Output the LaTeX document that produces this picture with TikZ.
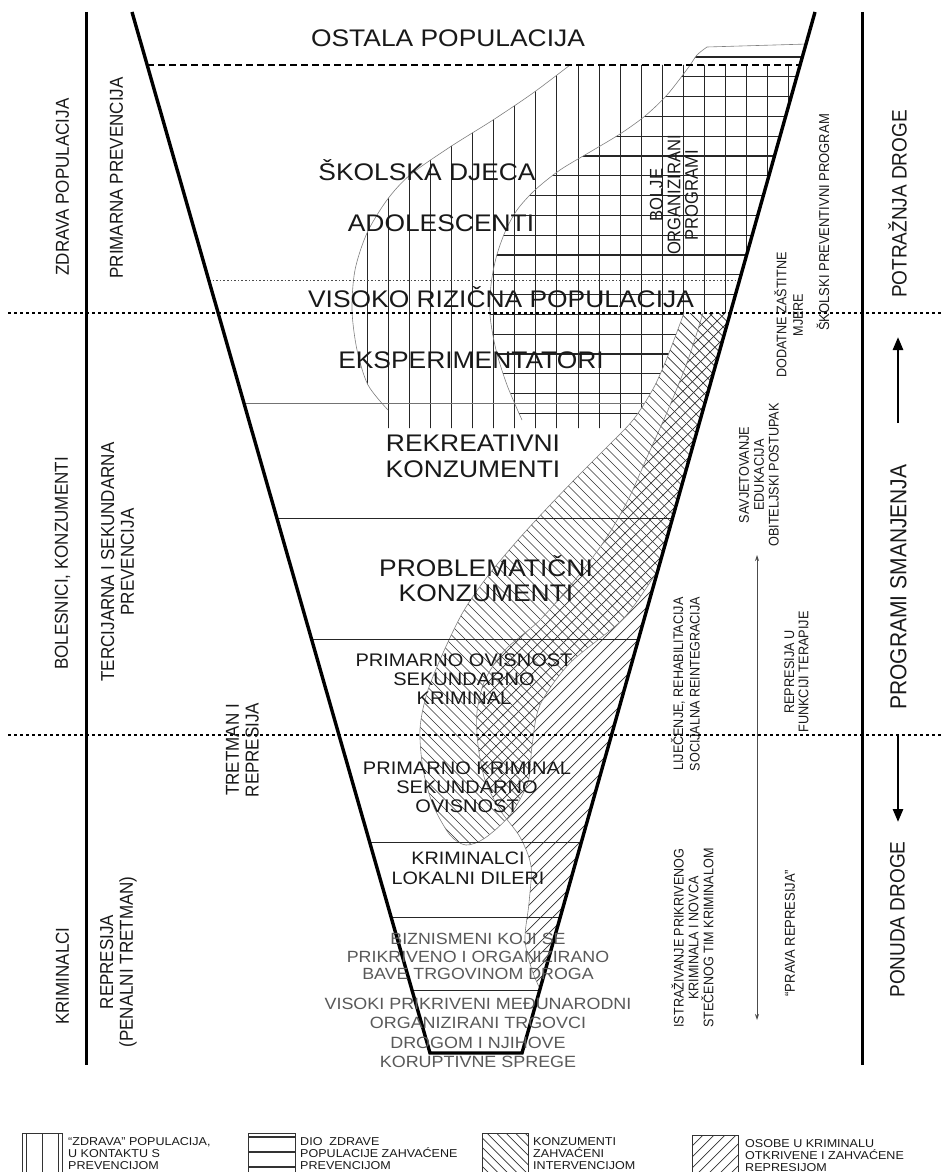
\documentclass[tikz,border=0pt]{standalone}
\usepackage{fontspec}
\setmainfont{Liberation Sans}
\usetikzlibrary{arrows.meta}
\newcommand\setfs[2]{\fontsize{#1}{#2}\selectfont}
\begin{document}
\begin{tikzpicture}[x=1pt,y=-1pt,
  funnelline/.style={line width=3.4pt, line join=miter},
  axisline/.style={line width=3pt},
  bigdots/.style={line width=2.6pt, dash pattern=on 2.6pt off 3.4pt},
  topdash/.style={line width=2.4pt, dash pattern=on 7pt off 4pt},
  thindots/.style={line width=0.8pt, dash pattern=on 1.6pt off 2pt, black!70},
  rowline/.style={line width=0.9pt, black!85},
  edge/.style={line width=0.6pt, black!50},
  vhatch/.style={line width=1pt, black!85},
  hhatch/.style={line width=1.1pt, black!85},
  dhatch/.style={line width=0.7pt, black!80},
  txt/.style={inner sep=0pt, xscale=1.1, text=black!90},
  bigtxt/.style={txt, font=\setfs{24}{25.5}, align=center},
  midtxt/.style={txt, font=\setfs{18.2}{19}, align=center},
  lowtxt/.style={txt, font=\setfs{16.2}{17.5}, align=center, text=black!65},
  sidetxt/.style={txt, rotate=90, font=\setfs{17}{18}, align=center},
  smalltxt/.style={txt, rotate=90, font=\setfs{12.7}{13.5}, align=center},
  legtxt/.style={txt, anchor=north west, font=\setfs{11.4}{12.3}, align=left},
  legbox/.style={line width=0.8pt, black!80},
  bigarrow/.style={line width=2.6pt, -{Triangle[length=13pt,width=10pt]}},
  thinarrow/.style={line width=0.8pt, black!70, {Stealth[length=6pt,width=4pt]}-{Stealth[length=6pt,width=4pt]}}
]
\useasboundingbox (0,0) rectangle (941,1172);
\fill[white] (0,0) rectangle (941,1172);

% ---- vertical hatch (zdrava populacija u kontaktu s prevencijom)
\begin{scope}
  \clip (132,12) -- (815,12) -- (522,1053) -- (430,1053) -- cycle;
  \clip plot[smooth] coordinates {(570,65) (533,93) (493,120) (450,147) (410,175) (387,200) (367,233) (355,270) (352,310) (357,350) (368,385) (388,410)} -- (388,428) -- (760,428) -- (860,65) -- cycle;
  \foreach \k in {0,...,21} \draw[vhatch] ({367.5+21.05*\k},55) -- ({367.5+21.05*\k},435);
\end{scope}
% ---- horizontal hatch (dio zdrave populacije zahvacene prevencijom)
\begin{scope}
  \clip (132,12) -- (815,12) -- (522,1053) -- (430,1053) -- cycle;
  \clip plot[smooth] coordinates {(522,420) (507,385) (496,350) (490,315) (491,285) (496,258) (505,232) (517,210) (535,190) (560,170) (590,152) (620,134) (645,116) (667,95) (688,68) (697,55) (707,47)} -- (806,44) -- (870,44) -- (870,420) -- cycle;
  \foreach \k in {0,...,18} \draw[hhatch] (470,{57+19.8*\k}) -- (830,{57+19.8*\k});
\end{scope}
\begin{scope}
  \clip (132,12) -- (815,12) -- (522,1053) -- (430,1053) -- cycle;
  \draw[edge] plot[smooth] coordinates {(570,65) (533,93) (493,120) (450,147) (410,175) (387,200) (367,233) (355,270) (352,310) (357,350) (368,385) (388,410)};
  \draw[edge] plot[smooth] coordinates {(522,420) (507,385) (496,350) (490,315) (491,285) (496,258) (505,232) (517,210) (535,190) (560,170) (590,152) (620,134) (645,116) (667,95) (688,68) (697,55) (707,47)} -- (808,44);
  \draw[line width=0.7pt, black!55] (244,403) -- (710,403);
  % white ground of the two diagonal bands
  \fill[white] plot[smooth] coordinates {(684,313) (667,358) (653,389) (633,420) (607,447) (580,474) (550,505) (517,541) (487,577) (463,612) (443,653) (427,693) (420,729) (423,769) (433,805) (450,835) (466,845) (485,838) (510,815) (528,782) (532,746) (540,705) (570,663) (623,619) (657,572) (682,535) (720,480)} -- (820,420) -- (820,313) -- cycle;
  \fill[white] plot[smooth] coordinates {(703,313) (688,360) (668,410) (648,455) (628,500) (605,540) (575,580) (540,620) (505,650) (485,680) (477,712) (478,745) (485,780) (500,810) (520,837) (531,866) (529,903) (525,940) (533,973) (547,1003)} -- (700,1003) -- (820,313) -- cycle;
\end{scope}
% ---- backslash hatch (konzumenti zahvaceni intervencijom)
\begin{scope}
  \clip (132,12) -- (815,12) -- (522,1053) -- (430,1053) -- cycle;
  \clip plot[smooth] coordinates {(684,313) (667,358) (653,389) (633,420) (607,447) (580,474) (550,505) (517,541) (487,577) (463,612) (443,653) (427,693) (420,729) (423,769) (433,805) (450,835) (466,845) (485,838) (510,815) (528,782) (532,746) (540,705) (570,663) (623,619) (657,572) (682,535) (720,480)} -- (820,420) -- (820,313) -- cycle;
  \foreach \k in {0,...,92} \draw[dhatch] ({-140+9.5*\k},300) -- ({660+9.5*\k},1100);
\end{scope}
% ---- slash hatch (osobe u kriminalu otkrivene i zahvacene represijom)
\begin{scope}
  \clip (132,12) -- (815,12) -- (522,1053) -- (430,1053) -- cycle;
  \clip plot[smooth] coordinates {(703,313) (688,360) (668,410) (648,455) (628,500) (605,540) (575,580) (540,620) (505,650) (485,680) (477,712) (478,745) (485,780) (500,810) (520,837) (531,866) (529,903) (525,940) (533,973) (547,1003)} -- (700,1003) -- (820,313) -- cycle;
  \foreach \k in {0,...,50} \draw[dhatch] ({690+12*\k},300) -- ({-110+12*\k},1100);
\end{scope}
\begin{scope}
  \clip (132,12) -- (815,12) -- (522,1053) -- (430,1053) -- cycle;
  \draw[edge] plot[smooth] coordinates {(684,313) (667,358) (653,389) (633,420) (607,447) (580,474) (550,505) (517,541) (487,577) (463,612) (443,653) (427,693) (420,729) (423,769) (433,805) (450,835) (466,845) (485,838) (510,815) (528,782) (532,746) (540,705) (570,663) (623,619) (657,572) (682,535) (720,480)};
  \draw[edge] plot[smooth] coordinates {(703,313) (688,360) (668,410) (648,455) (628,500) (605,540) (575,580) (540,620) (505,650) (485,680) (477,712) (478,745) (485,780) (500,810) (520,837) (531,866) (529,903) (525,940) (533,973) (547,1003)};
\end{scope}

% ---- level lines
\draw[topdash] (147,65) -- (800,65);
\draw[thindots] (209,280) -- (740,280);
\draw[rowline] (277,518) -- (672.5,518);
\draw[rowline] (311.5,639) -- (638.6,639);
\draw[rowline] (369.6,842) -- (581.5,842);
\draw[rowline] (391,917) -- (560.3,917);
\draw[rowline] (412,990) -- (539.8,990);
\draw[bigdots] (8,313) -- (941,313);
\draw[bigdots] (8,735) -- (941,735);

% ---- funnel and side axes
\draw[funnelline] (132,12) -- (430,1053) -- (522,1053) -- (815,12);
\draw[axisline] (86,12) -- (86,1065);
\draw[axisline] (862,12) -- (862,1065);

% ---- funnel texts
\node[bigtxt, anchor=base] (ostala) at (448,47) {OSTALA POPULACIJA};
\node[bigtxt, anchor=base] (skolska) at (427,180) {ŠKOLSKA DJECA};
\node[bigtxt, anchor=base] (adol) at (441,231) {ADOLESCENTI};
\node[bigtxt, anchor=base] (visoko) at (501,307) {VISOKO RIZIČNA POPULACIJA};
\node[bigtxt, anchor=base] (eksp) at (471,368) {EKSPERIMENTATORI};
\node[bigtxt, font=\setfs{24}{26}] (rekr) at (473,456.5) {REKREATIVNI\\KONZUMENTI};
\node[bigtxt, font=\setfs{24}{25}] (probl) at (486,578.7) {PROBLEMATIČNI\\KONZUMENTI};
\node[midtxt] (povis) at (464,679.5) {PRIMARNO OVISNOST\\SEKUNDARNO\\KRIMINAL};
\node[midtxt] (pkrim) at (467,787.5) {PRIMARNO KRIMINAL\\SEKUNDARNO\\OVISNOST};
\node[midtxt, font=\setfs{18}{20}] (dileri) at (468,868.5) {KRIMINALCI\\LOKALNI DILERI};
\node[lowtxt] (biznis) at (478,956.7) {BIZNISMENI KOJI SE\\PRIKRIVENO I ORGANIZIRANO\\BAVE TRGOVINOM DROGA};
\node[lowtxt, font=\setfs{16.3}{19.3}] (visoki) at (478,1033) {VISOKI PRIKRIVENI MEĐUNARODNI\\ORGANIZIRANI TRGOVCI\\DROGOM I NJIHOVE\\KORUPTIVNE SPREGE};
\node[txt, rotate=90, font=\setfs{16.6}{16}, align=center] (bolje) at (674,195) {BOLJE\\ORGANIZIRANI\\PROGRAMI};

% ---- left side texts
\node[sidetxt] (zdrava) at (62.5,187) {ZDRAVA POPULACIJA};
\node[sidetxt] (primprev) at (116.5,178) {PRIMARNA PREVENCIJA};
\node[sidetxt] (bolesnici) at (62.5,563.5) {BOLESNICI, KONZUMENTI};
\node[sidetxt] (tercprev) at (117.5,562) {TERCIJARNA I SEKUNDARNA\\PREVENCIJA};
\node[sidetxt] (tretman) at (242.5,750) {TRETMAN I\\REPRESIJA};
\node[sidetxt] (kriminalci) at (62.5,976) {KRIMINALCI};
\node[sidetxt] (penalni) at (118.5,962) {REPRESIJA\\(PENALNI TRETMAN)};

% ---- right side texts
\node[sidetxt, font=\setfs{19}{20}] (potraznja) at (897.5,204) {POTRAŽNJA DROGE};
\node[sidetxt, font=\setfs{21}{22}] (smanjenja) at (898.5,587) {PROGRAMI SMANJENJA};
\node[sidetxt, font=\setfs{19}{20}] (ponuda) at (897.5,919.5) {PONUDA DROGE};
\node[smalltxt, font=\setfs{13}{14}] (skolski) at (823,222.5) {ŠKOLSKI PREVENTIVNI PROGRAM};
\node[smalltxt, font=\setfs{12.6}{15}] (dodatne) at (788.5,315) {DODATNE ZAŠTITNE\\MJERE};
\node[smalltxt] (savjet) at (759,475) {SAVJETOVANJE\\EDUKACIJA\\OBITELJSKI POSTUPAK};
\node[smalltxt, font=\setfs{12.6}{15}] (lijecenje) at (685.5,684) {LIJEČENJE, REHABILITACIJA\\SOCIJALNA REINTEGRACIJA};
\node[smalltxt, font=\setfs{12.7}{13}] (represijau) at (796.5,672) {REPRESIJA U\\FUNKCIJI TERAPIJE};
\node[smalltxt, font=\setfs{12.6}{13.5}] (istraz) at (692.5,938) {ISTRAŽIVANJE PRIKRIVENOG\\KRIMINALA I NOVCA\\STEČENOG TIM KRIMINALOM};
\node[smalltxt, font=\setfs{13}{14}] (prava) at (790,933) {“PRAVA REPRESIJA”};

% ---- arrows
\coordinate (upS) at (898,423);
\coordinate (upE) at (898,337);
\coordinate (dnS) at (898,735);
\coordinate (dnE) at (898,822);
\coordinate (thinT) at (757,555);
\coordinate (thinB) at (757,1020);
\draw[bigarrow] (upS) -- (upE);
\draw[bigarrow] (dnS) -- (dnE);
\draw[thinarrow] (thinT) -- (thinB);

% ---- legend
\draw[legbox] (22,1133) rectangle (62,1185);
\foreach \x in {26,42,58} \draw[legbox] (\x,1133) -- (\x,1185);
\node[legtxt] (leg1) at (68,1137) {“ZDRAVA” POPULACIJA,\\U KONTAKTU S\\PREVENCIJOM};

\draw[legbox] (248,1133) rectangle (295,1185);
\foreach \y in {1137,1152,1167} \draw[line width=1.3pt, black!80] (248,\y) -- (295,\y);
\node[legtxt] (leg2) at (300,1137) {DIO\ \ ZDRAVE\\POPULACIJE ZAHVAĆENE\\PREVENCIJOM};

\begin{scope}
  \clip (482,1133) rectangle (528,1185);
  \foreach \k in {0,...,12} \draw[dhatch] ({430+9.5*\k},1133) -- ({482+9.5*\k},1185);
\end{scope}
\draw[legbox] (482,1133) rectangle (528,1185);
\node[legtxt] (leg3) at (533,1137) {KONZUMENTI\\ZAHVAĆENI\\INTERVENCIJOM};

\begin{scope}
  \clip (692,1135) rectangle (738,1185);
  \foreach \k in {0,...,10} \draw[dhatch] ({692+11*\k},1135) -- ({642+11*\k},1185);
\end{scope}
\draw[legbox] (692,1135) rectangle (738,1185);
\node[legtxt] (leg4) at (745,1139) {OSOBE U KRIMINALU\\OTKRIVENE I ZAHVAĆENE\\REPRESIJOM};
\end{tikzpicture}
\end{document}
